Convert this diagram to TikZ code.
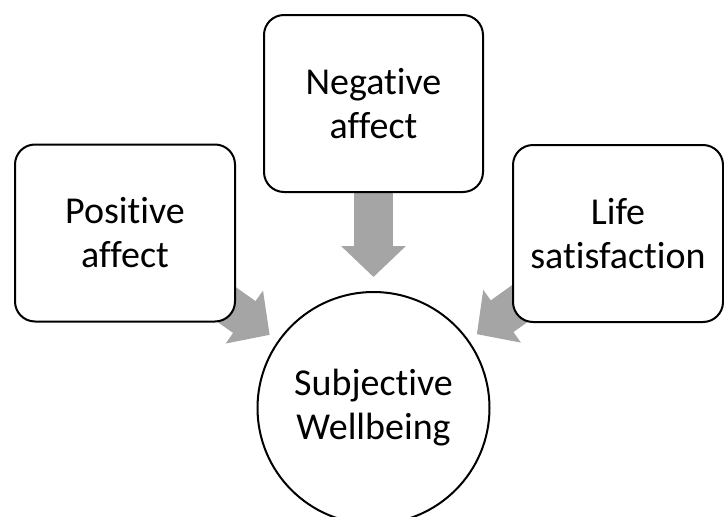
\documentclass[tikz,border=0pt]{standalone}
\usepackage{fontspec}
\setmainfont{Carlito}[Ligatures={NoCommon}]
\usetikzlibrary{arrows.meta, backgrounds}
\definecolor{arrowgray}{RGB}{165,165,165}

\begin{document}
\begin{tikzpicture}[x=1pt, y=1pt, font=\fontsize{38}{44}\selectfont,
    factor/.style={draw, line width=2pt, fill=white, rounded corners=20pt,
      align=center, inner sep=0pt, minimum height=177pt},
    outcome/.style={draw, circle, line width=2pt, fill=white, align=center,
      inner sep=0pt, minimum size=232pt},
    feed/.style={arrowgray, line width=39pt, -{Triangle[width=63pt, length=31pt]}}]
  \useasboundingbox (0,0) rectangle (724,-517);
  \node[factor, minimum width=220pt] (pos) at (125,-233) {Positive\\affect};
  \node[factor, minimum width=219pt] (neg) at (373.5,-103.5) {Negative\\affect};
  \node[factor, minimum width=210pt] (life) at (618,-233.5) {Life\\satisfaction};
  \node[outcome] (swb) at (373.5,-408) {Subjective\\Wellbeing};
  \begin{scope}[on background layer]
    \draw[feed, shorten >=14pt] (neg.south) -- (swb.north);
    \draw[feed, shorten >=10pt] (pos.center) -- (swb);
    \draw[feed, shorten >=10pt] (life.center) -- (swb);
  \end{scope}
\end{tikzpicture}
\end{document}
